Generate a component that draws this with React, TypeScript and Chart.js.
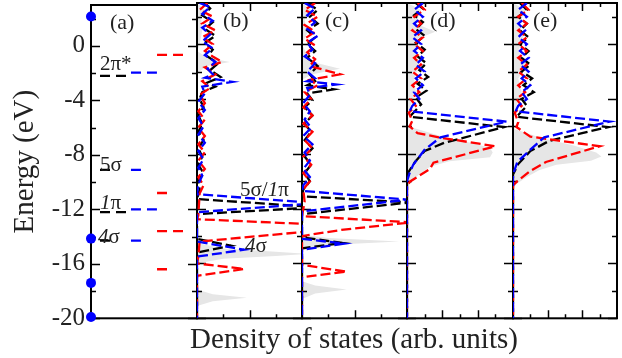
import React, { useEffect, useRef } from 'react';
import { Chart, registerables } from 'chart.js';
Chart.register(...registerables);

const FONT = '"Liberation Serif", "Times New Roman", serif';
const TEXT = '#222';

// ---- shared energy axis ----
const yTickValues = [-20, -16, -12, -8, -4, 0];
const yTickMarks = [-20, -18, -16, -14, -12, -10, -8, -6, -4, -2, 0, 2];
const E_MIN = -20;
const E_MAX = 3;

// ---- panel (a): molecular levels (energy) and degeneracy ----
const aLevelsBlack = [-2.2, -9.1, -12.2, -14.3];
const aLevelsBlue = [-1.97, -9.1, -12.0, -14.3];
const aLevelsRed = [-0.66, -10.8, -13.6, -16.4];
const aDegeneracy = [2, 1, 2, 1];
const aDots = [2.15, -14.15, -17.4, -19.9];

type Pt = [number, number]; // [DOS, energy]

// ---- panel (b) ----
const bBlack: Pt[] = [[0.3,3.0],[0.5,2.6],[0.2,2.1],[0.6,1.6],[0.3,1.1],[0.7,0.6],[0.3,0.1],[0.6,-0.4],[0.4,-0.9],[0.8,-1.4],[0.5,-1.9],[0.9,-2.4],[0.4,-2.8],[0.7,-3.1],[0.2,-3.5],[0.1,-4.0],[0.25,-4.6],[0.05,-5.2],[0.2,-5.8],[0.05,-6.4],[0.25,-7.0],[0.05,-7.6],[0.2,-8.2],[0.05,-8.8],[0.25,-9.4],[0.05,-10.0],[0.1,-10.6],[0,-11.3],[4.6,-11.9],[0,-12.4],[0,-14.2],[1.3,-14.7],[0,-15.2],[0,-20]];
const bBlue: Pt[] = [[0.1,3.0],[0.5,2.7],[0.2,2.2],[0.6,1.7],[0.2,1.2],[0.5,0.7],[0.2,0.2],[0.6,-0.3],[0.3,-0.8],[0.7,-1.3],[0.4,-1.8],[0.6,-2.2],[0.3,-2.45],[1.35,-2.75],[0.2,-3.1],[0.3,-3.6],[0.05,-4.2],[0.3,-4.8],[0.05,-5.4],[0.25,-6.0],[0.05,-6.6],[0.3,-7.2],[0.05,-7.8],[0.25,-8.4],[0.05,-9.0],[0.2,-9.6],[0.05,-10.2],[0,-10.95],[4.6,-11.6],[0,-12.26],[0,-14.4],[1.8,-15.0],[0,-15.5],[0,-20]];
const bRed: Pt[] = [[0.4,3.0],[0.1,2.5],[0.6,2.0],[0.2,1.5],[0.7,1.0],[0.2,0.5],[0.6,0.0],[0.3,-0.5],[0.6,-0.9],[0.95,-1.3],[0.3,-1.7],[0.7,-2.2],[0.2,-2.7],[0.5,-3.2],[0.1,-3.7],[0.3,-4.3],[0.05,-4.9],[0.3,-5.5],[0.05,-6.1],[0.3,-6.7],[0.05,-7.3],[0.3,-7.9],[0.05,-8.5],[0.3,-9.1],[0.05,-9.7],[0.25,-10.3],[0.1,-10.9],[0.05,-12.5],[0,-12.77],[6.3,-13.3],[0.1,-14.4],[0.05,-15.5],[0,-16.0],[1.8,-16.4],[0,-16.9],[0,-20]];
const bGray: Pt[] = [[0,3],[0.3,2.5],[0.15,2.0],[0.2,1.0],[0.1,0],[0,-0.5],[0.4,-1.0],[1.25,-1.3],[0.4,-1.6],[0,-2.1],[0,-14.5],[1,-14.9],[3,-15.15],[4.3,-15.3],[3,-15.45],[1,-15.65],[0,-16.0],[0,-17.9],[0.6,-18.25],[1.9,-18.5],[0.6,-18.75],[0,-19.1],[0,-20]];

// ---- panel (c) ----
const cBlack: Pt[] = [[0.2,3],[0.6,2.5],[0.3,2.0],[0.6,1.5],[0.2,1.0],[0.5,0.5],[0.2,0],[0.5,-0.5],[0.2,-1.0],[0.6,-1.6],[0.3,-2.2],[0.5,-2.7],[0.2,-3.0],[1.2,-3.3],[0.2,-3.6],[0.4,-4.1],[0.1,-4.6],[0.4,-5.2],[0.1,-5.8],[0.35,-6.4],[0.1,-7.0],[0.4,-7.6],[0.1,-8.2],[0.35,-8.8],[0.1,-9.4],[0.3,-10.0],[0.05,-10.6],[0,-11.1],[4.1,-11.55],[0,-12.4],[0,-14.1],[1.55,-14.5],[0,-14.9],[0,-20]];
const cBlue: Pt[] = [[0.1,3],[0.5,2.6],[0.2,2.1],[0.5,1.6],[0.2,1.1],[0.6,0.6],[0.2,0.1],[0.4,-0.4],[0.1,-0.9],[0.5,-1.4],[0.2,-2.0],[0.5,-2.5],[0.2,-2.7],[1.3,-2.95],[0.2,-3.2],[0.3,-3.7],[0.05,-4.3],[0.3,-4.9],[0.1,-5.5],[0.35,-6.1],[0.05,-6.7],[0.4,-7.3],[0.1,-7.9],[0.3,-8.5],[0.05,-9.1],[0.3,-9.7],[0.05,-10.3],[0,-10.7],[4.05,-11.35],[0,-12.2],[0,-14.2],[1.6,-14.55],[0,-15.0],[0,-20]];
const cRed: Pt[] = [[0.5,3],[0.1,2.5],[0.6,2.0],[0.1,1.4],[0.5,0.9],[0.1,0.4],[0.5,-0.1],[0.2,-0.6],[0.5,-1.1],[0.3,-1.6],[1.45,-2.2],[0.3,-2.6],[0.6,-3.0],[0.1,-3.5],[0.35,-4.0],[0.05,-4.6],[0.4,-5.2],[0.05,-5.8],[0.4,-6.4],[0.1,-7.0],[0.4,-7.6],[0.05,-8.2],[0.35,-8.8],[0.05,-9.4],[0.3,-10.0],[0.05,-10.6],[0.1,-11.5],[0,-12.55],[4.2,-13.0],[1.5,-13.55],[0,-14.0],[0,-16.1],[1.7,-16.6],[0,-17.0],[0,-20]];
const cGray: Pt[] = [[0,3],[0.4,2.4],[0.1,1.8],[0.2,0.8],[0,0],[0.2,-0.8],[0.4,-1.3],[1.45,-1.8],[0.4,-2.2],[0,-2.6],[0,-13.9],[1,-14.15],[3.7,-14.4],[1,-14.65],[0,-15.0],[0,-17.3],[0.5,-17.6],[1.7,-17.9],[0.5,-18.2],[0,-18.6],[0,-20]];

// ---- panel (d) ----
const dBlack: Pt[] = [[0.5,3],[0.9,2.6],[0.4,2.1],[0.9,1.6],[0.5,1.1],[1.0,0.6],[0.5,0.1],[1.0,-0.4],[0.6,-0.9],[1.1,-1.4],[0.7,-1.9],[1.2,-2.4],[0.6,-2.9],[1.1,-3.4],[0.5,-3.9],[0.8,-4.4],[0.15,-5.3],[5.5,-6.05],[2.1,-7.2],[1.0,-7.8],[0.45,-8.6],[0,-9.5],[0,-20]];
const dBlue: Pt[] = [[0.9,3],[0.4,2.5],[0.9,2.0],[0.4,1.5],[0.8,1.0],[0.3,0.5],[0.8,0],[0.4,-0.5],[0.9,-1.0],[0.5,-1.5],[1.0,-2.0],[0.5,-2.5],[0.9,-3.0],[0.4,-3.5],[0.7,-4.0],[0.3,-4.5],[0.15,-4.9],[5.65,-5.65],[1.9,-6.8],[1.0,-7.7],[0.35,-8.8],[0.15,-9.4],[0,-10],[0,-20]];
const dRed: Pt[] = [[0.6,3],[1.0,2.5],[0.4,2.0],[0.8,1.5],[0.3,1.0],[0.9,0.5],[0.4,0],[0.9,-0.5],[0.4,-1.0],[0.8,-1.5],[0.3,-2.0],[0.8,-2.5],[0.3,-3.0],[0.7,-3.5],[0.2,-4.0],[0.5,-4.5],[0.1,-5.0],[0.3,-5.6],[0.15,-6.0],[0.6,-6.5],[1.8,-6.8],[5.0,-7.45],[1.5,-8.65],[1.3,-9.1],[0.2,-10.0],[0,-10.3],[0,-20]];
const dGray: Pt[] = [[0,3],[0.8,2.5],[0.5,1.5],[1.6,0.9],[0.6,0.4],[0.5,-0.5],[0.7,-1.5],[0.4,-2.5],[0.5,-3.5],[0.2,-4.5],[0,-5.5],[0.1,-6.0],[1.9,-6.7],[3.6,-7.2],[4.7,-7.55],[4.85,-7.9],[4.7,-8.25],[2.4,-8.55],[1.3,-8.95],[0.7,-9.5],[0.2,-10.1],[0,-10.5],[0,-20]];

// ---- panel (e) ----
const eBlack: Pt[] = [[0.4,3],[0.8,2.5],[0.3,2.0],[0.8,1.5],[0.4,1.0],[0.9,0.5],[0.4,0],[0.9,-0.5],[0.5,-1.0],[1.0,-1.5],[0.5,-2.0],[1.1,-2.5],[0.6,-3.0],[1.2,-3.5],[0.5,-4.0],[0.8,-4.5],[0.2,-5.3],[5.5,-6.05],[2.1,-7.05],[1.0,-7.8],[0.3,-8.75],[0,-9.5],[0,-20]];
const eBlue: Pt[] = [[0.8,3],[0.3,2.5],[0.8,2.0],[0.3,1.5],[0.7,1.0],[0.3,0.5],[0.8,0],[0.4,-0.5],[0.9,-1.0],[0.4,-1.5],[0.9,-2.0],[0.5,-2.5],[1.0,-3.0],[0.5,-3.5],[0.8,-4.0],[0.3,-4.5],[0.15,-4.9],[5.6,-5.65],[1.8,-6.8],[1.0,-7.7],[0.25,-8.6],[0,-9.5],[0,-20]];
const eRed: Pt[] = [[0.5,3],[0.9,2.5],[0.3,2.0],[0.8,1.5],[0.3,1.0],[0.8,0.5],[0.3,0],[0.8,-0.5],[0.3,-1.0],[0.8,-1.5],[0.3,-2.0],[0.8,-2.5],[0.3,-3.0],[0.7,-3.5],[0.2,-4.0],[0.5,-4.5],[0.1,-5.0],[0.3,-5.7],[0.2,-6.05],[1.0,-6.75],[5.0,-7.45],[1.9,-8.6],[1.0,-9.25],[0.25,-10.0],[0,-10.3],[0,-20]];
const eGray: Pt[] = [[0,3],[0.7,2.5],[0.4,1.5],[0.6,0.5],[0.3,-0.5],[0.8,-1.5],[0.3,-2.5],[0.5,-3.5],[0.2,-4.5],[0,-5.5],[0.1,-6.2],[1.5,-6.8],[3.5,-7.4],[4.8,-7.9],[5.1,-8.2],[4.5,-8.5],[2.5,-8.8],[1.5,-9.2],[0.8,-9.7],[0.2,-10.2],[0,-10.6],[0,-20]];

// ---------------- helpers ----------------
const RED = '#ff0000';
const BLUE = '#0000ff';
const BLACK = '#000000';
const GRAY = '#e6e6e6';
const DASH = [10, 4];
const LW = 2.3;

const toXY = (arr: Pt[]) => arr.map(([x, y]) => ({ x, y }));

function lineDs(arr: Pt[], color: string) {
  return {
    data: toXY(arr), showLine: true, borderColor: color, borderWidth: LW,
    borderDash: DASH, pointRadius: 0, fill: false, tension: 0,
  };
}
function grayDs(arr: Pt[]) {
  return {
    data: toXY(arr), showLine: true, borderWidth: 0, borderColor: 'rgba(0,0,0,0)',
    backgroundColor: GRAY, fill: 'shape', pointRadius: 0, tension: 0, isGray: true,
  };
}

// panel (a) columns, in panel-a x units (0..1)
const colStart = { black: 0.085, blue: 0.377, red: 0.623 };
const degWidth = [0, 0.094, 0.245];

function levelDatasets(levels: number[], start: number, color: string) {
  return levels.map((e, i) => ({
    data: [{ x: start, y: e }, { x: start + degWidth[aDegeneracy[i]], y: e }],
    showLine: true, borderColor: color, borderWidth: LW, borderDash: [10, 6],
    pointRadius: 0, fill: false,
  }));
}

type Part = { t: string; it?: boolean };
type Label = { parts: Part[]; dx: number; dy: number; size: number };

type PanelCfg = {
  key: string; left: number; right: number; xMax: number; xTicks: boolean;
  datasets: any[]; labels: Label[];
};

const L = (t: string, dx: number, dy: number, size = 22): Label => ({ parts: [{ t }], dx, dy, size });

const PANELS: PanelCfg[] = [
  {
    key: 'a', left: 91, right: 197, xMax: 1, xTicks: false,
    datasets: [
      { data: aDots.map((e) => ({ x: 0, y: e })), showLine: false, pointRadius: 5,
        pointBackgroundColor: BLUE, pointBorderWidth: 0, clip: false },
      ...levelDatasets(aLevelsRed, colStart.red, RED),
      ...levelDatasets(aLevelsBlue, colStart.blue, BLUE),
      ...levelDatasets(aLevelsBlack, colStart.black, BLACK),
    ],
    labels: [
      L('(a)', 19, 24),
      { parts: [{ t: '2π*' }], dx: 9, dy: 65, size: 21 },
      { parts: [{ t: '5σ' }], dx: 9, dy: 166, size: 21 },
      { parts: [{ t: '1', it: true }, { t: 'π' }], dx: 9, dy: 204, size: 21 },
      { parts: [{ t: '4', it: true }, { t: 'σ' }], dx: 7, dy: 238, size: 21 },
    ],
  },
  {
    key: 'b', left: 197, right: 302, xMax: 4, xTicks: true,
    datasets: [lineDs(bBlue, BLUE), lineDs(bRed, RED), lineDs(bBlack, BLACK), grayDs(bGray)],
    labels: [
      L('(b)', 26, 24),
      { parts: [{ t: '5σ/' }, { t: '1', it: true }, { t: 'π' }], dx: 43, dy: 193, size: 21 },
      { parts: [{ t: '4', it: true }, { t: 'σ' }], dx: 48, dy: 249, size: 21 },
    ],
  },
  {
    key: 'c', left: 302, right: 407, xMax: 4, xTicks: true,
    datasets: [lineDs(cBlue, BLUE), lineDs(cRed, RED), lineDs(cBlack, BLACK), grayDs(cGray)],
    labels: [L('(c)', 23, 24)],
  },
  {
    key: 'd', left: 407, right: 513, xMax: 6, xTicks: true,
    datasets: [lineDs(dBlue, BLUE), lineDs(dRed, RED), lineDs(dBlack, BLACK), grayDs(dGray)],
    labels: [L('(d)', 23, 24)],
  },
  {
    key: 'e', left: 513, right: 617, xMax: 6, xTicks: true,
    datasets: [lineDs(eBlue, BLUE), lineDs(eRed, RED), lineDs(eBlack, BLACK), grayDs(eGray)],
    labels: [L('(e)', 20, 24)],
  },
];

const TOP = 3;
const BOTTOM = 318.3;
const H = 358;
const M = 6;

function drawFrame(chart: any, cfg: PanelCfg) {
  const { ctx, chartArea: a, scales } = chart;
  ctx.save();
  ctx.strokeStyle = '#000';
  ctx.lineWidth = 2;
  ctx.strokeRect(a.left, a.top, a.right - a.left, a.bottom - a.top);
  ctx.lineWidth = 1.5;
  ctx.beginPath();
  for (const v of yTickMarks) {
    const y = Math.round(scales.y.getPixelForValue(v)) + 0.5;
    const len = v % 4 === 0 ? 9 : 5;
    ctx.moveTo(a.left, y); ctx.lineTo(a.left + len, y);
    ctx.moveTo(a.right, y); ctx.lineTo(a.right - len, y);
  }
  if (cfg.xTicks) {
    for (let v = 1; v < cfg.xMax; v++) {
      const x = Math.round(scales.x.getPixelForValue(v)) + 0.5;
      const len = v % 2 === 0 ? 8 : 4;
      ctx.moveTo(x, a.top); ctx.lineTo(x, a.top + len);
      ctx.moveTo(x, a.bottom); ctx.lineTo(x, a.bottom - len);
    }
  }
  ctx.stroke();
  ctx.restore();
}

function drawLabels(chart: any, cfg: PanelCfg) {
  const { ctx, chartArea: a } = chart;
  ctx.save();
  ctx.fillStyle = TEXT;
  ctx.textBaseline = 'alphabetic';
  ctx.textAlign = 'left';
  for (const lab of cfg.labels) {
    let x = a.left + lab.dx;
    const y = a.top + lab.dy;
    for (const p of lab.parts) {
      ctx.font = `${p.it ? 'italic ' : ''}${lab.size}px ${FONT}`;
      ctx.fillText(p.t, x, y);
      x += ctx.measureText(p.t).width;
    }
  }
  ctx.restore();
}

function Panel({ cfg }: { cfg: PanelCfg }) {
  const ref = useRef<HTMLCanvasElement>(null);
  const isA = cfg.key === 'a';
  const canvasLeft = isA ? 0 : cfg.left - M;
  const width = cfg.right + M - canvasLeft;

  useEffect(() => {
    const hasGray = cfg.datasets.some((d) => d.isGray);
    const framePlugin = {
      id: 'frame' + cfg.key,
      beforeDatasetsDraw(chart: any) {
        if (!hasGray) drawFrame(chart, cfg);
      },
      afterDatasetDraw(chart: any, args: any) {
        const ds = chart.data.datasets[args.index];
        if (ds && ds.isGray) drawFrame(chart, cfg);
      },
      afterDraw(chart: any) {
        drawLabels(chart, cfg);
      },
    };
    const yAxis: any = {
      type: 'linear', min: E_MIN, max: E_MAX, display: isA, position: 'left',
      grid: { display: false, drawTicks: false },
      border: { display: false },
    };
    if (isA) {
      Object.assign(yAxis, {
        afterBuildTicks: (ax: any) => { ax.ticks = yTickValues.map((v) => ({ value: v })); },
        afterFit: (ax: any) => { ax.width = 91; ax.paddingTop = 0; ax.paddingBottom = 0; },
        ticks: { color: TEXT, font: { family: FONT, size: 25 }, padding: 6 },
        title: {
          display: true, text: 'Energy (eV)', color: TEXT,
          font: { family: FONT, size: 29 }, padding: { top: 8, bottom: 0 },
        },
      });
    }
    const chart = new Chart(ref.current as HTMLCanvasElement, {
      type: 'scatter',
      data: { datasets: cfg.datasets as any },
      options: {
        animation: false,
        responsive: false,
        maintainAspectRatio: false,
        events: [],
        layout: {
          padding: { left: isA ? 0 : M, right: M, top: TOP, bottom: H - BOTTOM },
        },
        plugins: {
          legend: { display: false },
          tooltip: { enabled: false },
          filler: { propagate: false },
        },
        scales: {
          x: { type: 'linear', min: 0, max: cfg.xMax, display: false },
          y: yAxis,
        },
      } as any,
      plugins: [framePlugin],
    });
    return () => chart.destroy();
  }, []);

  return (
    <canvas
      ref={ref}
      width={width}
      height={H}
      style={{ position: 'absolute', left: canvasLeft, top: 0, width, height: H }}
    />
  );
}

export default function App() {
  return (
    <div style={{ position: 'fixed', left: 0, top: 0, width: 622, height: 358, background: '#fff', overflow: 'hidden' }}>
      {PANELS.map((p) => (
        <Panel key={p.key} cfg={p} />
      ))}
      <div
        style={{
          position: 'absolute', left: 354, top: 324, transform: 'translateX(-50%)',
          font: `29px ${FONT}`, lineHeight: '29px', color: TEXT, whiteSpace: 'nowrap',
        }}
      >
        Density of states (arb. units)
      </div>
    </div>
  );
}
